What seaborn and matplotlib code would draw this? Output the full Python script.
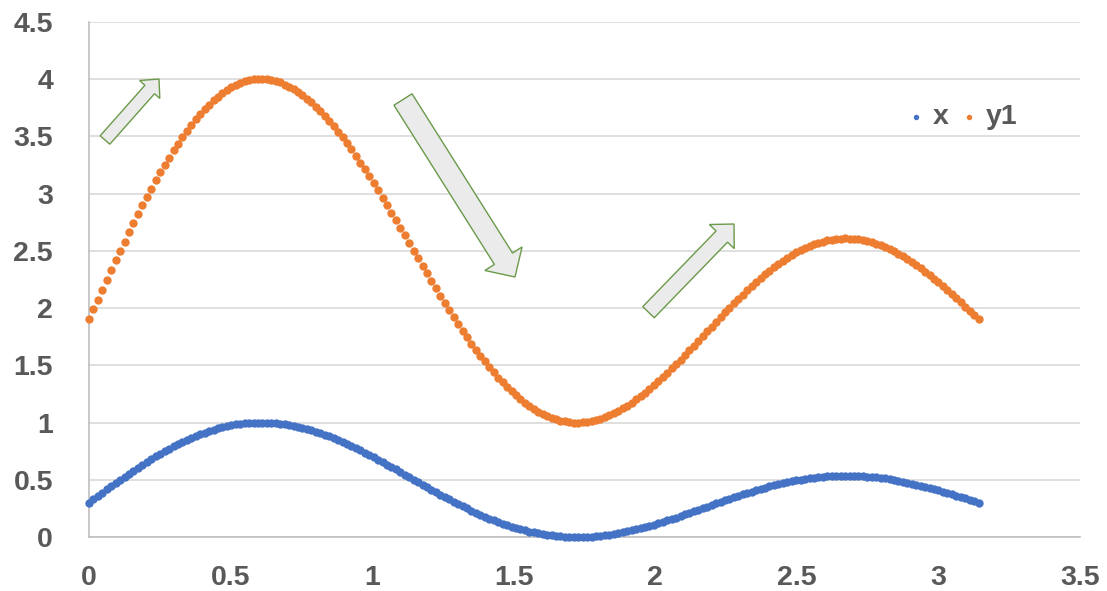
import numpy as np
import matplotlib
matplotlib.use("Agg")
import matplotlib.pyplot as plt
import seaborn as sns
from matplotlib.patches import FancyArrow
from matplotlib.transforms import IdentityTransform

# sample grid: 201 evenly spaced points from 0 to pi
n_points = 201
t_start, t_end = 0.0, np.pi
t = np.linspace(t_start, t_end, n_points)

x_vals = [
    0.301, 0.330, 0.358, 0.387, 0.415, 0.444, 0.472, 0.499, 0.527, 0.554,
    0.580, 0.606, 0.632, 0.657, 0.681, 0.705, 0.728, 0.750, 0.771, 0.792,
    0.812, 0.831, 0.849, 0.866, 0.883, 0.898, 0.912, 0.925, 0.938, 0.949,
    0.959, 0.968, 0.976, 0.983, 0.988, 0.993, 0.996, 0.999, 1.000, 1.000,
    0.999, 0.997, 0.994, 0.990, 0.984, 0.978, 0.971, 0.962, 0.953, 0.943,
    0.932, 0.920, 0.907, 0.893, 0.879, 0.863, 0.847, 0.830, 0.813, 0.795,
    0.776, 0.757, 0.737, 0.717, 0.697, 0.676, 0.655, 0.633, 0.611, 0.590,
    0.567, 0.545, 0.523, 0.501, 0.479, 0.456, 0.434, 0.413, 0.391, 0.370,
    0.348, 0.328, 0.307, 0.287, 0.268, 0.249, 0.230, 0.212, 0.195, 0.178,
    0.161, 0.146, 0.131, 0.117, 0.104, 0.091, 0.079, 0.068, 0.058, 0.048,
    0.040, 0.032, 0.025, 0.019, 0.014, 0.009, 0.006, 0.003, 0.001, 0.000,
    0.000, 0.001, 0.002, 0.004, 0.007, 0.011, 0.016, 0.021, 0.027, 0.034,
    0.041, 0.049, 0.058, 0.067, 0.077, 0.087, 0.098, 0.109, 0.120, 0.132,
    0.145, 0.157, 0.170, 0.183, 0.197, 0.210, 0.224, 0.238, 0.252, 0.265,
    0.279, 0.293, 0.307, 0.320, 0.334, 0.347, 0.360, 0.373, 0.385, 0.397,
    0.409, 0.421, 0.432, 0.442, 0.452, 0.462, 0.471, 0.480, 0.488, 0.495,
    0.502, 0.508, 0.514, 0.519, 0.523, 0.527, 0.530, 0.533, 0.534, 0.536,
    0.536, 0.536, 0.535, 0.533, 0.531, 0.528, 0.525, 0.521, 0.516, 0.511,
    0.505, 0.498, 0.491, 0.484, 0.476, 0.467, 0.458, 0.449, 0.439, 0.429,
    0.419, 0.408, 0.397, 0.385, 0.374, 0.362, 0.350, 0.338, 0.326, 0.313,
    0.301,
]

y1_vals = [
    1.903, 1.990, 2.074, 2.161, 2.245, 2.332, 2.416, 2.497, 2.581, 2.662,
    2.740, 2.818, 2.896, 2.971, 3.043, 3.115, 3.184, 3.250, 3.313, 3.376,
    3.436, 3.493, 3.547, 3.598, 3.649, 3.694, 3.736, 3.775, 3.814, 3.847,
    3.877, 3.904, 3.928, 3.949, 3.964, 3.979, 3.988, 3.997, 4.000, 4.000,
    3.997, 3.991, 3.982, 3.970, 3.952, 3.934, 3.913, 3.886, 3.859, 3.829,
    3.796, 3.760, 3.720, 3.679, 3.636, 3.590, 3.541, 3.491, 3.439, 3.385,
    3.329, 3.271, 3.212, 3.152, 3.090, 3.028, 2.964, 2.900, 2.834, 2.769,
    2.702, 2.636, 2.569, 2.502, 2.436, 2.369, 2.303, 2.238, 2.173, 2.109,
    2.045, 1.983, 1.922, 1.862, 1.803, 1.746, 1.690, 1.636, 1.584, 1.533,
    1.484, 1.438, 1.393, 1.351, 1.311, 1.273, 1.237, 1.204, 1.173, 1.145,
    1.119, 1.096, 1.075, 1.056, 1.041, 1.028, 1.017, 1.009, 1.003, 1.000,
    1.000, 1.002, 1.006, 1.013, 1.022, 1.034, 1.048, 1.064, 1.082, 1.102,
    1.124, 1.148, 1.173, 1.201, 1.230, 1.261, 1.293, 1.326, 1.361, 1.397,
    1.434, 1.472, 1.511, 1.550, 1.590, 1.631, 1.672, 1.713, 1.755, 1.796,
    1.838, 1.879, 1.920, 1.961, 2.001, 2.041, 2.080, 2.118, 2.156, 2.192,
    2.228, 2.262, 2.295, 2.327, 2.357, 2.386, 2.413, 2.439, 2.463, 2.485,
    2.506, 2.525, 2.542, 2.557, 2.570, 2.581, 2.591, 2.598, 2.603, 2.607,
    2.608, 2.607, 2.605, 2.600, 2.593, 2.585, 2.574, 2.562, 2.548, 2.532,
    2.514, 2.495, 2.474, 2.452, 2.428, 2.402, 2.375, 2.347, 2.318, 2.287,
    2.256, 2.223, 2.190, 2.156, 2.121, 2.085, 2.050, 2.013, 1.977, 1.940,
    1.903,
]

series_names = ["x", "y1"]
x_ticks = [0, 0.5, 1, 1.5, 2, 2.5, 3, 3.5]
y_ticks = [0, 0.5, 1, 1.5, 2, 2.5, 3, 3.5, 4, 4.5]

sns.set_style("white")
plt.rcParams["font.family"] = ["Liberation Sans", "DejaVu Sans"]

W, H = 1107, 591
fig = plt.figure(figsize=(W / 100, H / 100), dpi=100)
ax = fig.add_axes([89 / W, 54 / H, (1080 - 89) / W, (537 - 21.8) / H])

blue, orange = "#4472C4", "#ED7D31"
sns.scatterplot(x=t, y=x_vals, ax=ax, color=blue, s=36, linewidth=0,
                label=series_names[0], clip_on=False, zorder=3)
sns.scatterplot(x=t, y=y1_vals, ax=ax, color=orange, s=36, linewidth=0,
                label=series_names[1], clip_on=False, zorder=3)

ax.set_xlim(x_ticks[0], x_ticks[-1])
ax.set_ylim(y_ticks[0], y_ticks[-1])
ax.set_xticks(x_ticks)
ax.set_yticks(y_ticks)
ax.set_xticklabels([f"{v:g}" for v in x_ticks])
ax.set_yticklabels([f"{v:g}" for v in y_ticks])
ax.tick_params(axis="both", length=0, labelsize=20.5, labelcolor="#595959")
ax.tick_params(axis="y", pad=26)
ax.tick_params(axis="x", pad=20)
for lab in ax.get_xticklabels() + ax.get_yticklabels():
    lab.set_fontweight("bold")
ax.grid(axis="y", color="#D9D9D9", linewidth=1.2)
ax.set_axisbelow(True)
for side in ("top", "right"):
    ax.spines[side].set_visible(False)
for side in ("left", "bottom"):
    ax.spines[side].set_color("#BFBFBF")
    ax.spines[side].set_linewidth(1.2)
ax.set_xlabel("")
ax.set_ylabel("")

leg = ax.legend(loc="center", bbox_to_anchor=(0.882, 0.815), ncol=2, frameon=False,
                fontsize=20.5, labelcolor="#595959", handlelength=0.5,
                handletextpad=0.35, columnspacing=0.45, markerscale=0.65)
for txt in leg.get_texts():
    txt.set_fontweight("bold")


def block_arrow(tail, tip, width, head_width, head_length):
    """Outlined block arrow given in pixel coordinates from the top-left corner."""
    x0, y0 = tail[0], H - tail[1]
    x1, y1 = tip[0], H - tip[1]
    arr = FancyArrow(x0, y0, x1 - x0, y1 - y0, width=width, head_width=head_width,
                     head_length=head_length, length_includes_head=True,
                     transform=IdentityTransform(), facecolor="#EBEBEB",
                     edgecolor="#6A9A4A", linewidth=1.0)
    fig.add_artist(arr)


block_arrow((105, 140), (159, 79), 12.8, 27, 14)
block_arrow((403, 99.5), (515, 277), 21.4, 44, 21.6)
block_arrow((648.5, 312.2), (734, 224), 16, 34.6, 17.5)

fig.savefig("out.png", dpi=100)
